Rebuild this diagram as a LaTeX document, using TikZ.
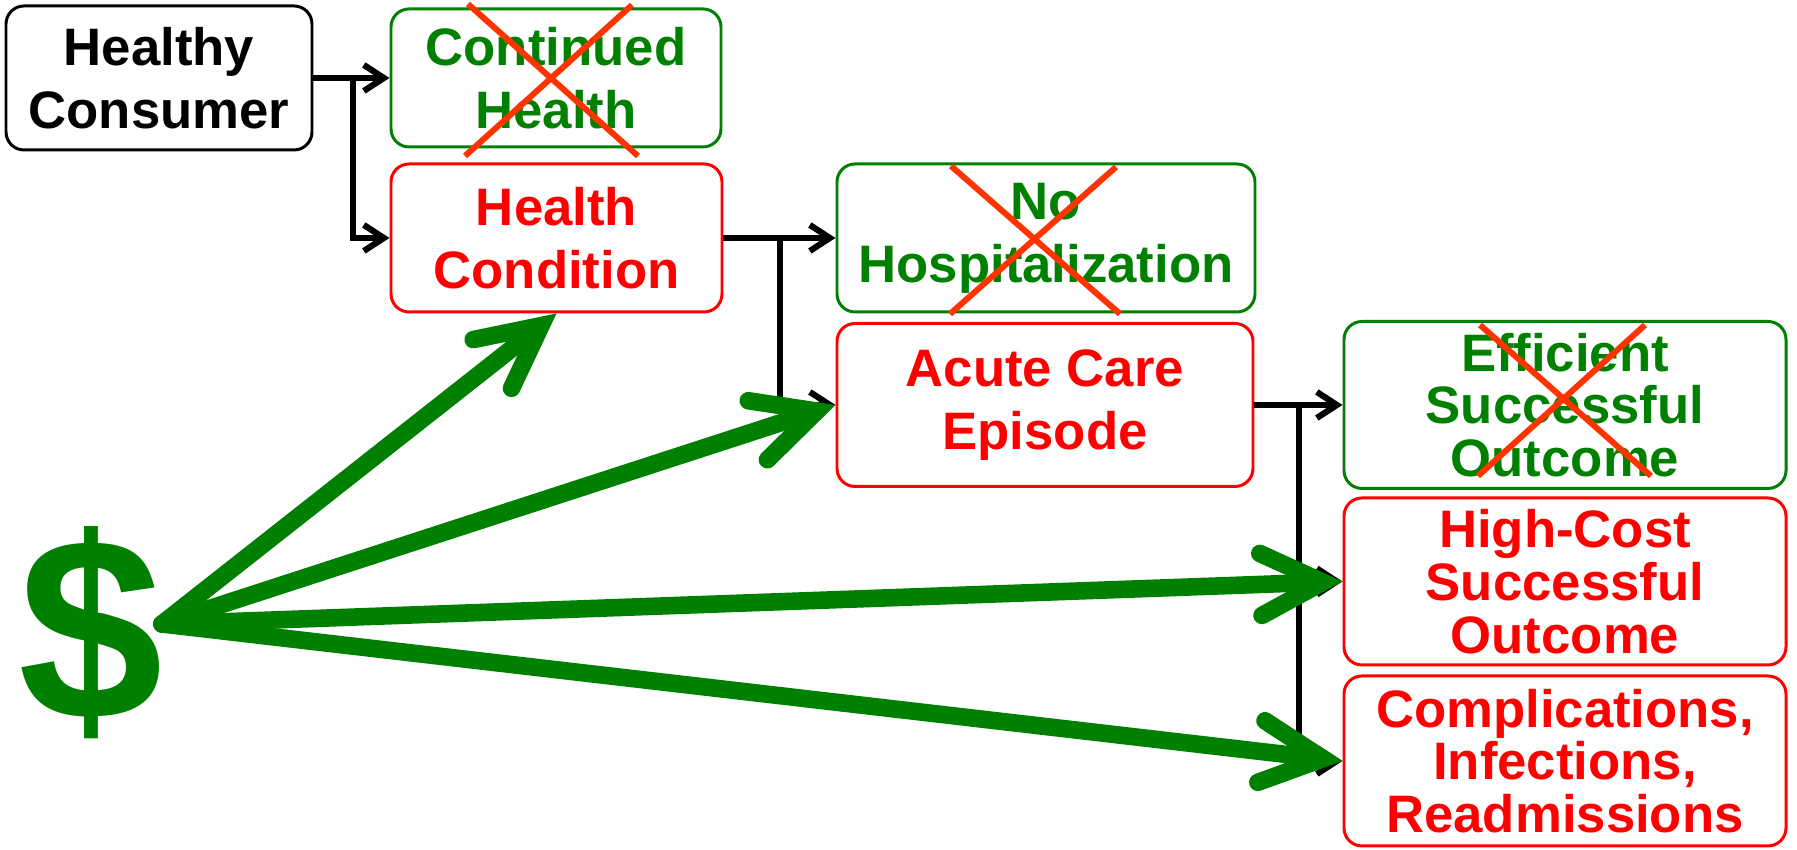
\documentclass[tikz,border=0pt]{standalone}
\usepackage{fontspec}
\setmainfont{Liberation Sans}
\usepackage{tikz}
\usetikzlibrary{arrows.meta,calc}
\definecolor{goodgreen}{RGB}{0,128,0}
\definecolor{badred}{RGB}{255,0,0}
\definecolor{crossred}{RGB}{255,51,0}

\begin{document}
\begin{tikzpicture}
            \tikzstyle{box}=[draw, rounded corners=0.18cm, line width=0.85pt, align=center, inner sep=0pt, font=\bfseries\fontsize{15}{18}\selectfont];
            \tikzstyle{good box}=[box, draw=goodgreen, text=goodgreen];
            \tikzstyle{bad box}=[box, draw=badred, text=badred];
            \tikzstyle{flow}=[line width=1.75pt, -{Straight Barb[length=0.2cm, width=0.26cm]}];
            \tikzstyle{money}=[goodgreen, line width=5pt, line cap=round, -{Straight Barb[length=0.62cm, width=0.62cm, line cap=round, line join=miter]}];
            \tikzstyle{cross}=[crossred, line width=1.7pt];

            \useasboundingbox (0,0) rectangle (17.97,8.5);

            % Top row: the consumer and the first split
            \node[box, minimum width=3.06cm, minimum height=1.44cm] (healthy) at (1.59,7.72) {Healthy\\Consumer};
            \node[good box, minimum width=3.30cm, minimum height=1.38cm] (continued) at (5.56,7.72) {Continued\\Health};
            \node[bad box, minimum width=3.31cm, minimum height=1.48cm] (condition) at (5.565,6.12) {Health\\Condition};

            % Second split
            \node[good box, minimum width=4.18cm, minimum height=1.48cm] (nohosp) at (10.46,6.12) {No\\Hospitalization};
            \node[bad box, minimum width=4.16cm, minimum height=1.63cm] (acute) at (10.45,4.45) {Acute Care\\Episode};

            % Outcomes
            \node[good box, minimum width=4.42cm, minimum height=1.67cm, font=\bfseries\fontsize{15}{15}\selectfont] (efficient) at (15.65,4.45) {Efficient\\Successful\\Outcome};
            \node[bad box, minimum width=4.42cm, minimum height=1.67cm, font=\bfseries\fontsize{15}{15}\selectfont] (highcost) at (15.65,2.685) {High-Cost\\Successful\\Outcome};
            \node[bad box, minimum width=4.42cm, minimum height=1.70cm, font=\bfseries\fontsize{15}{15}\selectfont] (compl) at (15.65,0.89) {Complications,\\Infections,\\Readmissions};

            % The dollar sign
            \node[text=goodgreen, inner sep=0pt, font=\bfseries\fontsize{74}{74}\selectfont] (dollar) at (0.91,2.175) {\$};
            \coordinate (spend) at (1.62,2.26);

            % Branch points
            \coordinate (split1) at (3.53,7.72);
            \coordinate (split2) at (7.80,6.12);
            \coordinate (split3) at (12.99,4.45);

            % Black flow arrows
            \draw[flow] (healthy.east) -- (continued.west);
            \draw[flow] (split1) |- (condition.west);
            \draw[flow] (condition.east) -- (nohosp.west);
            \draw[flow] (split2) |- (acute.west);
            \draw[flow] (acute.east) -- (efficient.west);
            \draw[flow] (split3) |- (highcost.west);
            \draw[flow] (split3) |- (compl.west);

            % Green money arrows
            \draw[money] (spend) -- (condition.south);
            \draw[money] (spend) -- (acute.west);
            \draw[money] (spend) -- (highcost.west);
            \draw[money] (spend) -- (compl.west);

            % Crossed out outcomes
            \draw[cross] (4.68,8.46) -- (6.38,6.94);
            \draw[cross] (6.32,8.45) -- (4.65,6.94);
            \draw[cross] (9.51,6.84) -- (11.20,5.36);
            \draw[cross] (11.16,6.83) -- (9.50,5.36);
            \draw[cross] (14.80,5.25) -- (16.51,3.74);
            \draw[cross] (16.45,5.25) -- (14.78,3.74);
        \end{tikzpicture}
\end{document}
